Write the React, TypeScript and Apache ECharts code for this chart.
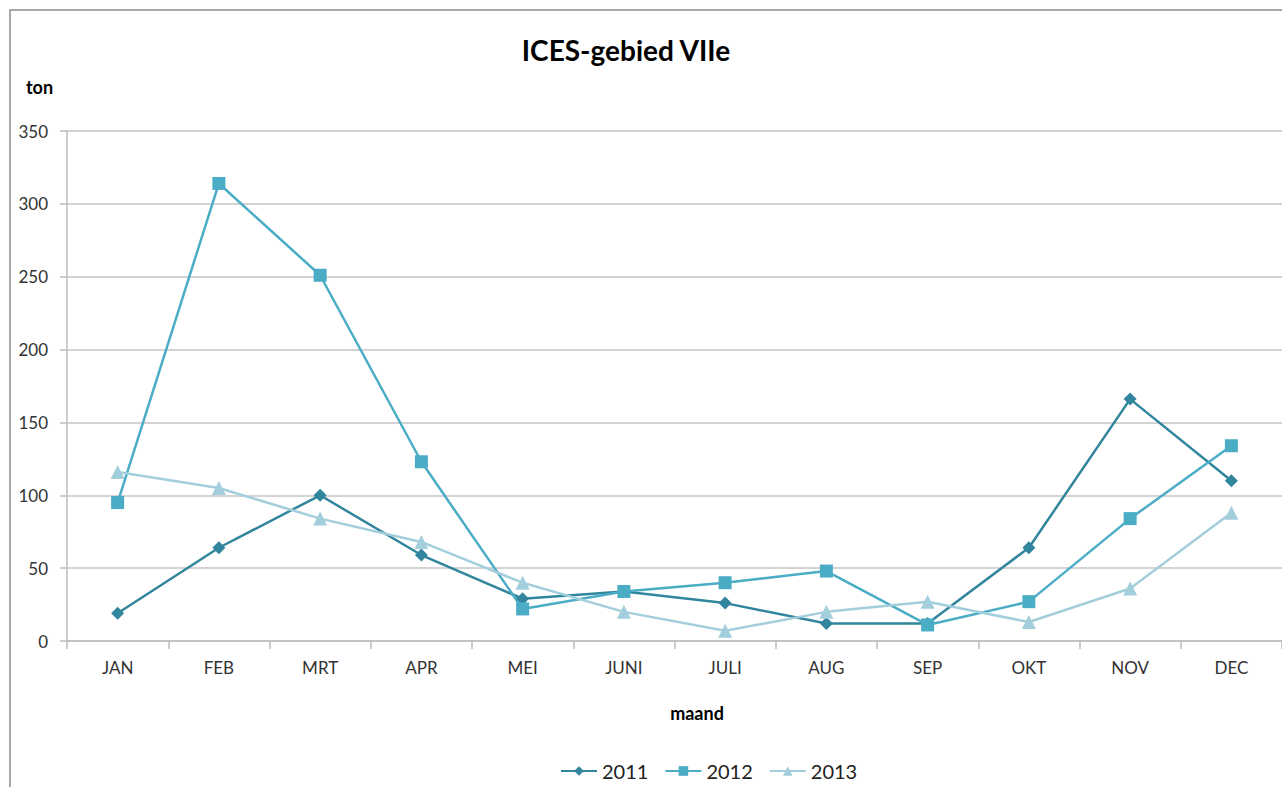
import React, { useEffect, useRef } from "react";
import * as echarts from "echarts";

const months = ["JAN", "FEB", "MRT", "APR", "MEI", "JUNI", "JULI", "AUG", "SEP", "OKT", "NOV", "DEC"];
const values2011 = [19, 64, 100, 59, 29, 34, 26, 12, 12, 64, 166, 110];
const values2012 = [95, 314, 251, 123, 22, 34, 40, 48, 11, 27, 84, 134];
const values2013 = [116, 105, 84, 68, 40, 20, 7, 20, 27, 13, 36, 88];
const seriesNames = ["2011", "2012", "2013"];

const FONT = "Lato, 'Open Sans', sans-serif";

export default function App() {
  const ref = useRef<HTMLDivElement>(null);
  useEffect(() => {
    if (!ref.current) return;
    const chart = echarts.init(ref.current, undefined, { renderer: "svg" });
    const mk = (name: string, data: number[], color: string, symbol: string, size: number) => ({
      name,
      type: "line",
      data,
      symbol,
      symbolSize: size,
      showSymbol: true,
      lineStyle: { color, width: 2.5 },
      itemStyle: { color },
      z: 3,
    });
    chart.setOption({
      animation: false,
      backgroundColor: "#ffffff",
      title: {
        text: "ICES-gebied VIIe",
        left: 621,
        top: 31,
        textAlign: "center",
        textStyle: { fontFamily: FONT, fontSize: 28, fontWeight: "bold", color: "#000" },
      },
      graphic: [
        {
          type: "rect",
          shape: { x: 10, y: 10, width: 1300, height: 800 },
          style: { fill: "none", stroke: "#8c8c8c", lineWidth: 1.5 },
          silent: true,
          z: -10,
        },
        {
          type: "text",
          left: 26,
          top: 78,
          style: { text: "ton", fontFamily: FONT, fontSize: 18, fontWeight: "bold", fill: "#000" },
        },
        {
          type: "text",
          x: 697,
          y: 713,
          style: {
            text: "maand",
            fontFamily: FONT,
            fontSize: 18,
            fontWeight: "bold",
            fill: "#000",
            align: "center",
            verticalAlign: "middle",
          },
        },
      ],
      legend: {
        bottom: 1,
        left: 555,
        itemWidth: 36,
        itemHeight: 12,
        itemGap: 16,
        textStyle: { fontFamily: FONT, fontSize: 20, color: "#222" },
        data: seriesNames,
      },
      grid: { left: 67, right: -1, top: 131, bottom: 146, containLabel: false },
      xAxis: {
        type: "category",
        data: months,
        boundaryGap: true,
        axisLine: { lineStyle: { color: "#bdbdbd", width: 1.5 } },
        axisTick: { show: true, alignWithLabel: false, length: 8, lineStyle: { color: "#bdbdbd", width: 1.5 } },
        axisLabel: { fontFamily: FONT, fontSize: 17, color: "#333", margin: 18 },
      },
      yAxis: {
        type: "value",
        min: 0,
        max: 350,
        interval: 50,
        axisLine: { show: true, lineStyle: { color: "#bdbdbd", width: 1.5 } },
        axisTick: { show: true, length: 7, lineStyle: { color: "#bdbdbd", width: 1.5 } },
        axisLabel: { fontFamily: FONT, fontSize: 17, color: "#333", margin: 19 },
        splitLine: { lineStyle: { color: "#c4c4c4", width: 1.5 } },
      },
      series: [
        mk("2011", values2011, "#31859C", "diamond", 13),
        mk("2012", values2012, "#4BACC6", "rect", 13),
        mk("2013", values2013, "#A3CEDC", "triangle", 14),
      ],
    });
    return () => chart.dispose();
  }, []);
  return <div ref={ref} style={{ position: "absolute", left: 0, top: 0, width: 1282, height: 787 }} />;
}
